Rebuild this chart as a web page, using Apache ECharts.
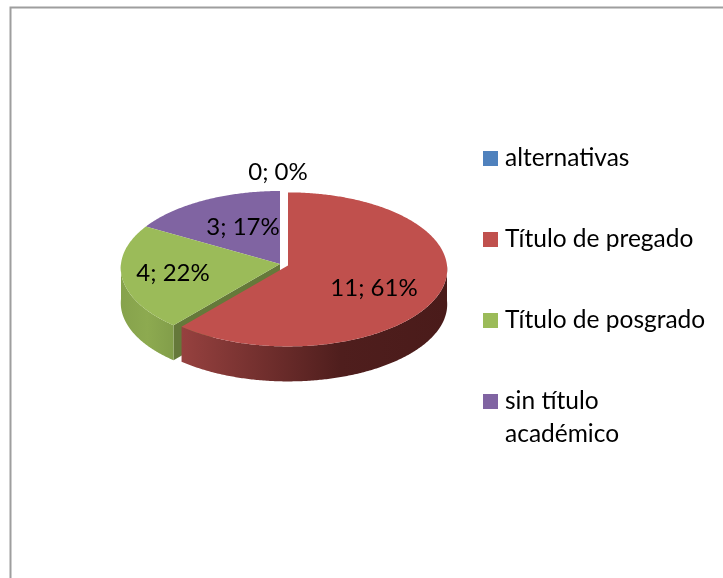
<!DOCTYPE html>
<html><head><meta charset="utf-8">
<style>html,body{margin:0;padding:0;background:#fff}#c{width:723px;height:578px}</style>
<script src="https://cdn.jsdelivr.net/npm/echarts@6/dist/echarts.min.js"></script>
</head><body><div id="c"></div>
<script>
const categories = ['alternativas', 'Título de pregado', 'Título de posgrado', 'sin título académico'];
const legendLines = ['alternativas', 'Título de pregado', 'Título de posgrado', 'sin título\nacadémico'];
const values = [0, 11, 4, 3];
const colors = ['#4F81BD', '#C0504D', '#9BBB59', '#8064A2'];
const sideStops = [null,
  [[0, '#96413F'], [0.6, '#4F1E1D'], [1, '#4A1B1A']],
  [[0, '#86A24C'], [0.5, '#8DAA50'], [1, '#829E4A']],
  null];
const explode = [0, 8.5, 0, 0];
const labelOffset = [[-2, -92], [94, 24], [-107, 9], [-37, -37]];
const seriesZ = [1, 4, 3, 2];

const PIE = {cx: 280, cy: 264, rx: 159, ry: 76.8, q: 0.052, depth: 35};
const FAMILY = 'Lato, "Noto Sans", sans-serif';
const total = values.reduce((a, b) => a + b, 0);
const starts = values.map((_, i) => values.slice(0, i).reduce((a, b) => a + b, 0) / total * 2 * Math.PI);

function project(theta, ax, ay) {
  const u = Math.sin(theta), v = -Math.cos(theta), w = 1 - PIE.q * v;
  return [ax + PIE.rx * u / w, ay + PIE.ry * v / w];
}
function arc(a0, a1, ax, ay, dy) {
  const n = Math.max(2, Math.ceil((a1 - a0) / 0.01)), pts = [];
  for (let k = 0; k <= n; k++) {
    const p = project(a0 + (a1 - a0) * k / n, ax, ay);
    pts.push([p[0], p[1] + dy]);
  }
  return pts;
}
function makeRender(i) {
  return function (params, api) {
    const v = api.value(0), a0 = starts[i], a1 = a0 + v / total * 2 * Math.PI, mid = (a0 + a1) / 2;
    const ax = PIE.cx + explode[i] * Math.sin(mid);
    const ay = PIE.cy - explode[i] * Math.cos(mid) * PIE.ry / PIE.rx;
    const children = [];
    if (v > 0) {
      const vis0 = Math.max(a0, Math.PI / 2), vis1 = Math.min(a1, Math.PI * 1.5);
      if (a0 > Math.PI && a0 < Math.PI * 1.5) {
        const t = project(a0, ax, ay);
        children.push({type: 'polygon', shape: {points: [[ax, ay], t, [t[0], t[1] + PIE.depth], [ax, ay + PIE.depth]]},
          style: {fill: '#65793A'}});
      }
      if (vis1 > vis0) {
        const top = arc(vis0, vis1, ax, ay, 0), bottom = arc(vis0, vis1, ax, ay, PIE.depth).reverse();
        children.push({type: 'polygon', shape: {points: top.concat(bottom)},
          style: {fill: new echarts.graphic.LinearGradient(0, 0, 1, 0,
            sideStops[i].map(s => ({offset: s[0], color: s[1]})))}});
      }
      children.push({type: 'polygon', shape: {points: [[ax, ay]].concat(arc(a0, a1, ax, ay, 0))},
        style: {fill: colors[i]}});
    }
    children.push({type: 'text', style: {
      text: v + '; ' + Math.round(v / total * 100) + '%',
      x: PIE.cx + labelOffset[i][0], y: PIE.cy + labelOffset[i][1],
      align: 'center', verticalAlign: 'middle', font: '24px ' + FAMILY, fill: '#000'}});
    return {type: 'group', children};
  };
}
const chart = echarts.init(document.getElementById('c'), null, {renderer: 'canvas'});
chart.setOption({
  animation: false,
  backgroundColor: '#fff',
  color: colors,
  graphic: [{type: 'rect', silent: true, z: 0, shape: {x: 10.5, y: 7.5, width: 800, height: 700},
    style: {fill: 'none', stroke: '#9E9E9E', lineWidth: 2}}],
  legend: {
    orient: 'vertical', left: 478, top: 104, itemWidth: 15, itemHeight: 15, itemGap: -18,
    icon: 'rect', selectedMode: false, data: categories,
    formatter: name => {
      const lines = legendLines[categories.indexOf(name)];
      return lines.includes('\n') ? ' \n' + lines : ' \n' + lines + '\n ';
    },
    textStyle: {fontFamily: FAMILY, fontSize: 24.5, lineHeight: 33, color: '#000', padding: [0, 0, 0, 2]}
  },
  series: categories.map((name, i) => ({
    type: 'custom', name, coordinateSystem: 'none', silent: true, z: seriesZ[i],
    itemStyle: {color: colors[i]},
    data: [[values[i]]], renderItem: makeRender(i)
  }))
});
</script></body></html>
